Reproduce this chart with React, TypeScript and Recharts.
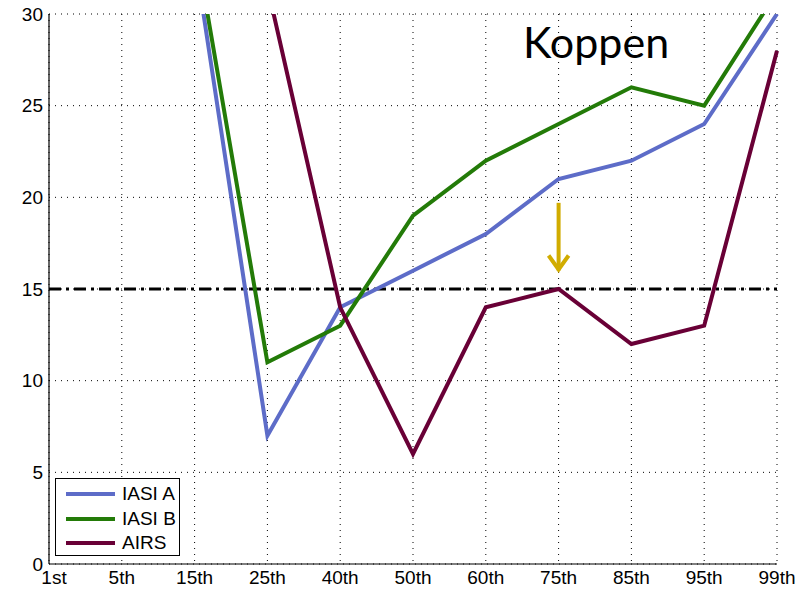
import React from "react";
import {
  LineChart,
  Line,
  XAxis,
  YAxis,
  CartesianGrid,
  ReferenceLine,
} from "recharts";

const percentiles = ["1st", "5th", "15th", "25th", "40th", "50th", "60th", "75th", "85th", "95th", "99th"];
const iasiA = [45, 40, 33.2, 7, 14, 16, 18, 21, 22, 24, 30];
const iasiB = [46, 41, 34.1, 11, 13, 19, 22, 24, 26, 25, 31.2];
const airs = [48, 44, 40, 31.5, 14, 6, 14, 15, 12, 13, 28];
const yTicks = [0, 5, 10, 15, 20, 25, 30];

const threshold = 15;
const arrowFrom = 19.7;
const arrowTo = 15.9;

const COLORS = { a: "#5d6cc8", b: "#237b08", airs: "#690036", arrow: "#d1ac00" };

const data = percentiles.map((p, i) => ({ p, a: iasiA[i], b: iasiB[i], airs: airs[i] }));

const legendItems = [
  { label: "IASI A", color: COLORS.a },
  { label: "IASI B", color: COLORS.b },
  { label: "AIRS", color: COLORS.airs },
];

const FONT = "'Liberation Sans', Arial, sans-serif";
const tickStyle = { fill: "#000", fontSize: 19, fontFamily: FONT };

// x labels sit just under the frame; the first one is nudged right like the original
function XTick({ x, y, payload, index }: any) {
  const dx = index === 0 ? 5 : 0;
  return (
    <text x={x + dx} y={y + 16} textAnchor="middle" {...tickStyle}>
      {payload.value}
    </text>
  );
}

function Arrow(props: any) {
  const { x1, y1, x2, y2 } = props;
  const x = (x1 + x2) / 2;
  const top = Math.min(y1, y2);
  const tip = Math.max(y1, y2);
  return (
    <g stroke={COLORS.arrow} strokeWidth={4} fill="none" strokeLinecap="butt">
      <line x1={x} y1={top} x2={x} y2={tip - 2} />
      <polyline points={`${x - 10},${tip - 17} ${x},${tip - 3} ${x + 10},${tip - 17}`} strokeLinejoin="miter" />
    </g>
  );
}

export default function App() {
  return (
    <div style={{ position: "absolute", left: 0, top: 0, width: 810, height: 590, background: "#fff" }}>
      <LineChart width={810} height={590} data={data} margin={{ top: 14, right: 33, bottom: 0, left: 0 }}>
        <CartesianGrid stroke="#000" strokeDasharray="1 5" />
        <XAxis
          dataKey="p"
          height={26}
          tick={<XTick />}
          tickLine={false}
          tickSize={2}
          axisLine={{ stroke: "#000", strokeWidth: 1.2 }}
          interval={0}
        />
        <XAxis xAxisId="top" dataKey="p" orientation="top" height={0} tick={false} tickLine={false} axisLine={{ stroke: "#000", strokeWidth: 1.2 }} />
        <YAxis
          domain={[0, 30]}
          ticks={yTicks}
          allowDataOverflow
          width={49}
          tick={tickStyle}
          tickLine={false}
          tickSize={4}
          axisLine={{ stroke: "#000", strokeWidth: 1.2 }}
        />
        <YAxis yAxisId="right" orientation="right" domain={[0, 30]} width={0} tick={false} tickLine={false} axisLine={{ stroke: "#000", strokeWidth: 1.2 }} />
        <ReferenceLine y={threshold} stroke="#000" strokeWidth={3} strokeDasharray="12 5 3 5" />
        <Line type="linear" dataKey="a" stroke={COLORS.a} strokeWidth={4} dot={false} isAnimationActive={false} />
        <Line type="linear" dataKey="b" stroke={COLORS.b} strokeWidth={4} dot={false} isAnimationActive={false} />
        <Line type="linear" dataKey="airs" stroke={COLORS.airs} strokeWidth={4} dot={false} isAnimationActive={false} />
        <ReferenceLine
          segment={[
            { x: "75th", y: arrowFrom },
            { x: "75th", y: arrowTo },
          ]}
          shape={Arrow}
        />
      </LineChart>
      <div
        style={{
          position: "absolute",
          left: 523,
          top: 16,
          fontFamily: "Lato, 'Noto Sans', sans-serif",
          fontSize: 43,
          color: "#000",
          lineHeight: "52px",
        }}
      >
        Koppen
      </div>
      <div
        style={{
          position: "absolute",
          left: 55,
          top: 478,
          width: 125,
          height: 78,
          border: "1.5px solid #000",
          background: "#fff",
          boxSizing: "border-box",
          padding: "3px 0 0 10px",
        }}
      >
        {legendItems.map((it) => (
          <div key={it.label} style={{ display: "flex", alignItems: "center", height: 24.5 }}>
            <div style={{ width: 49, height: 4, background: it.color, marginRight: 7 }} />
            <span style={{ fontFamily: FONT, color: "#000", fontSize: 19, lineHeight: "20px" }}>{it.label}</span>
          </div>
        ))}
      </div>
    </div>
  );
}
